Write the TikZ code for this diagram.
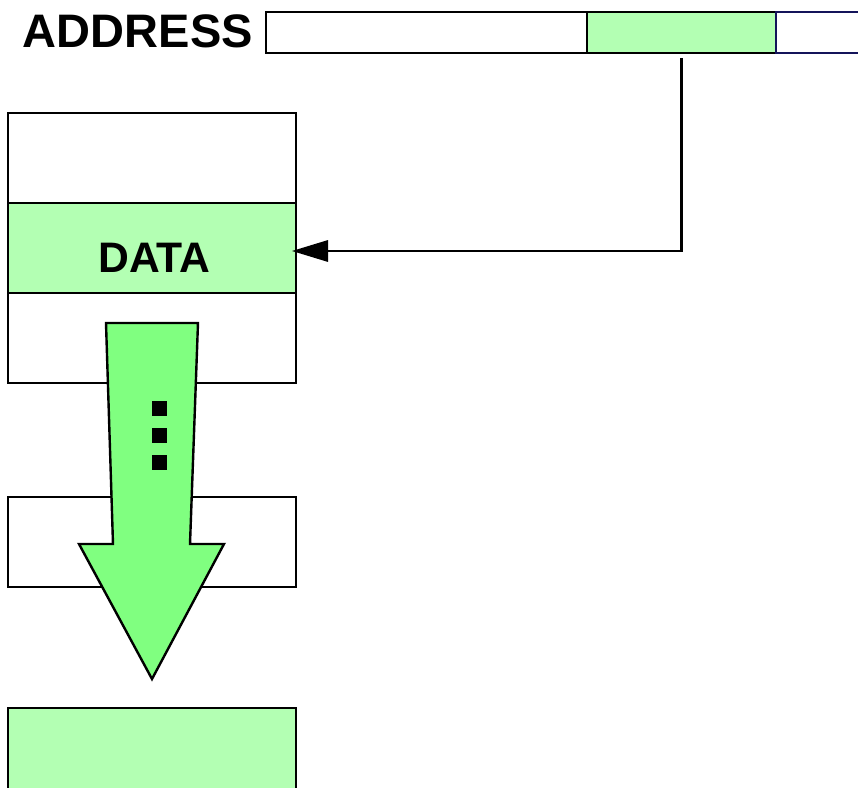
\documentclass[tikz,border=0pt]{standalone}
\usepackage{fontspec}
\setmainfont{Liberation Sans}
\usetikzlibrary{arrows.meta}
\definecolor{lightgr}{RGB}{179,255,179}
\definecolor{arrowgr}{RGB}{128,255,128}
\definecolor{navyline}{RGB}{20,20,90}
\begin{document}
\begin{tikzpicture}[x=0.75pt,y=-0.75pt,
  cell/.style={draw=black,line width=1.8pt,rectangle,inner sep=0pt,outer sep=0pt,anchor=north west},
  colcell/.style={cell,minimum width=216pt,minimum height=67.5pt},
  adrcell/.style={cell,minimum height=30.75pt},
  link/.style={line width=1.6pt,-{Triangle[length=27pt,width=16pt]}},
  bigarrow/.style={fill=arrowgr,draw=black,line width=1.8pt,line join=miter},
  dot/.style={fill=black}]
\useasboundingbox (0,0) rectangle (858,788);
\clip (0,0) rectangle (858,788);
% address register
\node[adrcell,minimum width=240.75pt] (seg1) at (266,12) {};
\node[adrcell,minimum width=141.75pt,fill=lightgr] (seg2) at (587,12) {};
\node[adrcell,minimum width=78pt,draw=navyline] (seg3) at (776,12) {};
\node[inner sep=0pt,anchor=base east,font=\fontsize{35.25pt}{40pt}\selectfont\bfseries] (adrlabel) at (253,48) {ADDRESS};
% memory column
\node[colcell] (m1) at (8,113) {};
\node[colcell,fill=lightgr] (data) at (8,203) {};
\node[inner sep=0pt,anchor=base,font=\fontsize{32pt}{38pt}\selectfont\bfseries] (datalabel) at (154.5,273) {DATA};
\node[colcell] (m3) at (8,293) {};
\node[colcell] (m4) at (8,497) {};
\node[colcell,fill=lightgr] (m5) at (8,708) {};
% connector
\coordinate (tip) at ([xshift=-3pt,yshift=-2.25pt]data.east);
\draw[link,shorten <=3.75pt] (seg2.south) |- (tip);
% big arrow
\draw[bigarrow] (106,323) -- (198,323) -- (190,544) -- (224,544) -- (152,679) -- (79,544) -- (113,544) -- cycle;
\fill[dot] (152,401) rectangle (167,416);
\fill[dot] (152,428) rectangle (167,443);
\fill[dot] (152,455) rectangle (167,470);
\end{tikzpicture}
\end{document}
